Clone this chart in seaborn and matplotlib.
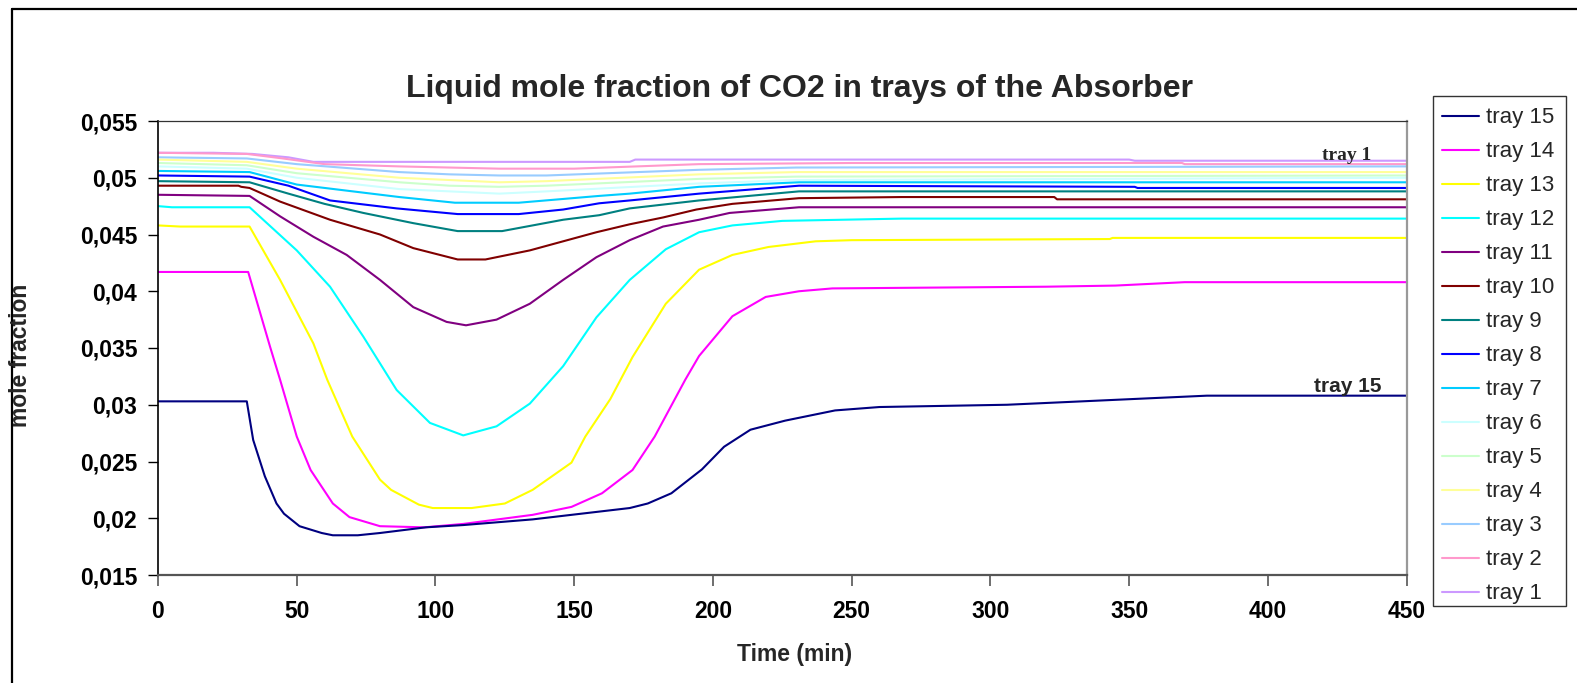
import matplotlib
matplotlib.use("Agg")
import matplotlib.pyplot as plt
from matplotlib.lines import Line2D
from matplotlib.patches import Rectangle
import seaborn as sns
import pandas as pd

# Liquid CO2 mole fraction per absorber tray over time (min)
t15 = [0, 32, 34.3, 38.5, 42.7, 45.4, 51, 59, 63, 72, 80, 96.5, 110, 135, 149, 170, 176.5, 185, 196, 204, 213.5, 226, 244, 260, 306, 342, 378, 450]
x15 = [0.0303, 0.0303, 0.0269, 0.0237, 0.0213, 0.0204, 0.0193, 0.0187, 0.0185, 0.0185, 0.0187, 0.0192, 0.0194, 0.0199, 0.0203, 0.0209, 0.0213, 0.0222, 0.0243, 0.0263, 0.0278, 0.0286, 0.0295, 0.0298, 0.0300, 0.0304, 0.0308, 0.0308]

t14 = [0, 32.5, 40.4, 44, 50, 55, 63, 69, 80, 96, 110, 135, 149, 160, 171, 179, 190, 195, 207, 219, 231, 243, 268, 320, 345, 370, 450]
x14 = [0.0417, 0.0417, 0.0351, 0.0322, 0.0272, 0.02425, 0.0213, 0.0201, 0.0193, 0.0192, 0.0195, 0.0203, 0.0210, 0.0222, 0.02425, 0.0272, 0.0322, 0.0343, 0.0378, 0.0395, 0.0400, 0.04025, 0.0403, 0.0404, 0.0405, 0.0408, 0.0408]

t13 = [0, 8, 33, 44, 56, 61, 70, 80, 84, 94, 99, 113, 125, 135, 149, 154, 163, 171, 183, 195, 207, 220, 237, 250, 343, 344, 450]
x13 = [0.0458, 0.0457, 0.0457, 0.0410, 0.0354, 0.0322, 0.0272, 0.0234, 0.0225, 0.0212, 0.0209, 0.0209, 0.0213, 0.0225, 0.0249, 0.0272, 0.0305, 0.0342, 0.0389, 0.0419, 0.0432, 0.0439, 0.0444, 0.0445, 0.0446, 0.0447, 0.0447]

t12 = [0, 5, 33, 50, 62, 74, 86, 98, 110, 122, 134, 146, 158, 170, 183, 195, 207, 225, 268, 450]
x12 = [0.0475, 0.0474, 0.0474, 0.0436, 0.0404, 0.0360, 0.0313, 0.0284, 0.0273, 0.0281, 0.0301, 0.0334, 0.0377, 0.0410, 0.0437, 0.0452, 0.0458, 0.0462, 0.0464, 0.0464]

t11 = [0, 33, 44, 56, 68, 80, 92, 104, 111, 122, 134, 146, 158, 170, 182, 195, 206, 231, 450]
x11 = [0.0485, 0.0484, 0.0466, 0.0448, 0.0432, 0.0410, 0.0386, 0.0373, 0.0370, 0.0375, 0.0389, 0.0410, 0.0430, 0.0445, 0.0457, 0.0463, 0.0469, 0.0474, 0.0474]

t10 = [0, 29, 30, 33, 44, 62, 80, 92, 108, 118, 134, 146, 158, 170, 182, 194, 207, 231, 268, 323, 324, 450]
x10 = [0.0493, 0.0493, 0.0492, 0.0491, 0.0479, 0.0463, 0.0450, 0.0438, 0.0428, 0.0428, 0.0436, 0.0444, 0.0452, 0.0459, 0.0465, 0.0472, 0.0477, 0.0482, 0.0483, 0.0483, 0.0481, 0.0481]

t9 = [0, 33, 47, 60, 74, 92, 108, 124, 146, 159, 170, 195, 231, 450]
x9 = [0.0497, 0.0496, 0.0486, 0.0477, 0.0469, 0.0460, 0.0453, 0.0453, 0.0463, 0.0467, 0.0473, 0.0480, 0.0488, 0.0488]

t8 = [0, 33, 47, 62, 86, 108, 130, 146, 159, 170, 195, 231, 352, 353, 450]
x8 = [0.0502, 0.0501, 0.0493, 0.0480, 0.0473, 0.0468, 0.0468, 0.0472, 0.04775, 0.0480, 0.0486, 0.0493, 0.0492, 0.0491, 0.0491]

t7 = [0, 33, 50, 87, 107, 130, 159, 170, 195, 231, 450]
x7 = [0.0506, 0.0505, 0.0494, 0.0483, 0.0478, 0.0478, 0.0484, 0.0486, 0.0492, 0.0496, 0.0496]

t6 = [0, 32, 50, 87, 105, 123, 140, 195, 230, 450]
x6 = [0.0510, 0.0508, 0.0500, 0.0490, 0.0488, 0.0486, 0.0488, 0.0495, 0.0498, 0.0500]

t5 = [0, 32, 50, 87, 105, 123, 140, 195, 230, 450]
x5 = [0.0513, 0.0511, 0.0504, 0.0496, 0.0493, 0.0492, 0.0493, 0.0499, 0.0501, 0.0502]

t4 = [0, 32, 50, 87, 105, 123, 140, 195, 230, 450]
x4 = [0.0516, 0.0514, 0.0508, 0.0500, 0.0498, 0.0496, 0.0497, 0.0503, 0.0505, 0.0505]

t3 = [0, 32, 50, 87, 105, 123, 140, 195, 230, 450]
x3 = [0.0518, 0.0517, 0.0512, 0.0505, 0.0503, 0.0502, 0.0502, 0.0507, 0.0509, 0.0510]

t2 = [0, 32, 45, 60, 87, 105, 123, 150, 195, 250, 369, 370, 450]
x2 = [0.0522, 0.0521, 0.0517, 0.0512, 0.0510, 0.0509, 0.0508, 0.0508, 0.0512, 0.0513, 0.0513, 0.0512, 0.0512]

t1 = [0, 20, 34, 47, 56, 112, 170, 172, 350, 352, 450]
x1 = [0.0522, 0.0522, 0.0521, 0.0518, 0.0514, 0.0514, 0.0514, 0.0516, 0.0516, 0.0515, 0.0515]

tray_names = ["tray 15", "tray 14", "tray 13", "tray 12", "tray 11", "tray 10", "tray 9",
              "tray 8", "tray 7", "tray 6", "tray 5", "tray 4", "tray 3", "tray 2", "tray 1"]
tray_colors = ["#000080", "#FF00FF", "#FFFF00", "#00FFFF", "#800080", "#800000", "#008080",
               "#0000FF", "#00CCFF", "#CCFFFF", "#CCFFCC", "#FFFF99", "#99CCFF", "#FF99CC", "#CC99FF"]
tray_series = [(t15, x15), (t14, x14), (t13, x13), (t12, x12), (t11, x11), (t10, x10), (t9, x9),
               (t8, x8), (t7, x7), (t6, x6), (t5, x5), (t4, x4), (t3, x3), (t2, x2), (t1, x1)]

y_ticks = [0.015, 0.02, 0.025, 0.03, 0.035, 0.04, 0.045, 0.05, 0.055]
y_labels = ["0,015", "0,02", "0,025", "0,03", "0,035", "0,04", "0,045", "0,05", "0,055"]
x_ticks = [0, 50, 100, 150, 200, 250, 300, 350, 400, 450]

rows = []
for name, (tt, xx) in zip(tray_names, tray_series):
    for a, b in zip(tt, xx):
        rows.append({"time": a, "frac": b, "tray": name})
df = pd.DataFrame(rows)

sns.set_theme(style="white")
plt.rcParams["font.family"] = ["Liberation Sans", "DejaVu Sans"]

W, H = 1577, 683
fig = plt.figure(figsize=(W / 100, H / 100), dpi=100)
fig.patch.set_facecolor("white")

L, R, T, B = 158, 1406.7, 121, 575
ax = fig.add_axes([L / W, 1 - B / H, (R - L) / W, (B - T) / H])

palette = dict(zip(tray_names, tray_colors))
sns.lineplot(data=df, x="time", y="frac", hue="tray", hue_order=tray_names[::-1],
             palette=palette, estimator=None, sort=False, linewidth=1.5,
             legend=False, ax=ax)

ax.set_xlim(0, 450)
ax.set_ylim(0.015, 0.055)
ax.set_xticks(x_ticks)
ax.set_xticklabels([str(v) for v in x_ticks])
ax.set_yticks(y_ticks)
ax.set_yticklabels(y_labels)
ax.set_xlabel("")
ax.set_ylabel("")
ax.grid(False)

for lab in ax.get_xticklabels() + ax.get_yticklabels():
    lab.set_fontweight("bold")
    lab.set_fontsize(16.5)
    lab.set_color("black")
ax.tick_params(axis="y", direction="out", length=7, width=1, color="black", pad=8, left=True)
ax.tick_params(axis="x", direction="out", length=8, width=1.2, color="#555555", pad=10, bottom=True)

ax.spines["left"].set_color("black")
ax.spines["left"].set_linewidth(1.2)
ax.spines["bottom"].set_color("#555555")
ax.spines["bottom"].set_linewidth(1.6)
ax.spines["top"].set_color("#333333")
ax.spines["top"].set_linewidth(0.9)
ax.spines["right"].set_color("#999999")
ax.spines["right"].set_linewidth(1.6)

# Curve end labels
ax.text(428.2, 0.0520, "tray 1", ha="center", va="center",
        fontsize=14, fontweight="bold", family=["Liberation Serif", "DejaVu Serif"])
ax.text(428.7, 0.03165, "tray 15", ha="center", va="center",
        fontsize=15, fontweight="bold")

fig.text(800 / W, 1 - 89.5 / H, "Liquid mole fraction of CO2 in trays of the Absorber",
         ha="center", va="center", fontsize=23, fontweight="bold")
fig.text(795 / W, 1 - 654 / H, "Time (min)", ha="center", va="center",
         fontsize=16.5, fontweight="bold")
fig.text(21 / W, 1 - 355 / H, "mole fraction", ha="center", va="center",
         rotation=90, fontsize=16.5, fontweight="bold")

# Legend: entries without frame, box drawn separately
handles = [Line2D([], [], color=c, lw=1.5) for c in tray_colors]
leg = fig.legend(handles, tray_names, loc="upper left",
                 bbox_to_anchor=(1441.5 / W, 1 - 107.5 / H), bbox_transform=fig.transFigure,
                 prop={"family": "Liberation Sans", "size": 16}, frameon=False,
                 handlelength=1.7, handletextpad=0.3, labelspacing=0.585,
                 borderpad=0, borderaxespad=0)
fig.add_artist(Rectangle((1432.5 / W, 1 - 606 / H), (1566 - 1432.5) / W, (606 - 96) / H,
                         transform=fig.transFigure, fill=False, edgecolor="#333333", lw=1.0))

# Outer chart border
fig.add_artist(Line2D([11.5 / W, 1.0], [1 - 8.5 / H, 1 - 8.5 / H], transform=fig.transFigure,
                      color="black", lw=1.6))
fig.add_artist(Line2D([11.5 / W, 11.5 / W], [0.0, 1 - 8.5 / H], transform=fig.transFigure,
                      color="black", lw=1.6))

fig.savefig("out.png", dpi=100, facecolor="white")
